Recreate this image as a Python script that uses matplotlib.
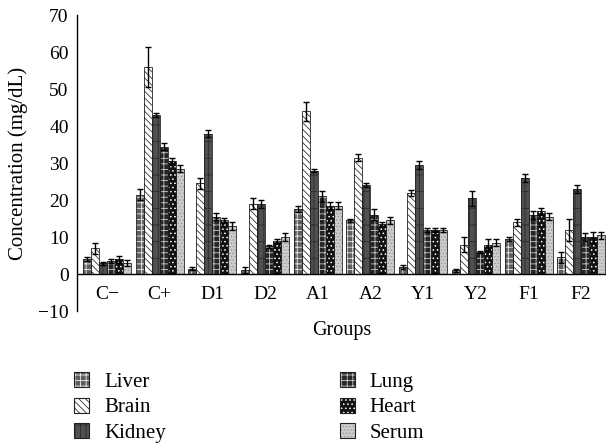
#!/usr/bin/env python
# -*- coding:utf-8 -*-
import numpy as np
import matplotlib
matplotlib.use('Agg')
import matplotlib.pyplot as plt
from matplotlib.patches import Patch

# =============================================================================
# DATA
# =============================================================================
groups = ['C\u2212', 'C+', 'D1', 'D2', 'A1', 'A2', 'Y1', 'Y2', 'F1', 'F2']
organs = ['Liver', 'Brain', 'Kidney', 'Lung', 'Heart', 'Serum']

liver = [4.0, 21.5, 1.5, 1.0, 17.5, 14.5, 2.0, 1.0, 9.5, 4.5]
brain = [7.0, 56.0, 24.5, 19.0, 44.0, 31.5, 22.0, 8.0, 14.0, 12.0]
kidney = [3.0, 43.0, 38.0, 19.0, 28.0, 24.0, 29.5, 20.5, 26.0, 23.0]
lung = [3.5, 34.5, 15.5, 7.5, 21.0, 16.0, 12.0, 6.0, 16.0, 10.0]
heart = [4.0, 30.5, 14.5, 9.0, 18.5, 13.5, 12.0, 8.0, 17.0, 10.0]
serum = [3.0, 28.5, 13.0, 10.0, 18.5, 14.5, 12.0, 8.5, 15.5, 10.5]

liver_err = [0.5, 1.5, 0.5, 0.8, 0.8, 0.5, 0.5, 0.5, 0.5, 1.5]
brain_err = [1.5, 5.5, 1.5, 1.5, 2.5, 1.0, 0.8, 2.0, 1.0, 3.0]
kidney_err = [0.4, 0.5, 1.0, 1.0, 0.5, 0.5, 1.0, 2.0, 1.0, 1.0]
lung_err = [0.5, 1.0, 1.0, 0.5, 1.5, 1.5, 0.5, 0.3, 1.0, 1.0]
heart_err = [1.0, 1.0, 0.8, 0.5, 1.0, 0.5, 0.5, 1.5, 1.0, 1.5]
serum_err = [0.8, 1.0, 1.2, 1.0, 1.0, 1.0, 0.5, 1.0, 1.0, 1.0]

values = [liver, brain, kidney, lung, heart, serum]
errors = [liver_err, brain_err, kidney_err, lung_err, heart_err, serum_err]

# face colour, hatch, hatch colour
styles = [('#5e5e5e', '+++', '#f0f0f0'),
          ('white', '\\\\\\\\\\', '#333333'),
          ('#505050', '|||-', '#2a2a2a'),
          ('#262626', '+++', '#c8c8c8'),
          ('#111111', '....', 'white'),
          ('#cccccc', '.....', '#999999')]

# =============================================================================
# PLOT
# =============================================================================
plt.rcParams['font.family'] = ['Liberation Serif', 'DejaVu Serif']
plt.rcParams['hatch.linewidth'] = 0.6
fsize = 14

f = plt.figure(figsize=(6.06, 4.47), dpi=100)
ax = f.add_axes([0.127, 0.304, 0.873, 0.662])

x = np.arange(len(groups))
w = 0.152
for i in range(len(organs)):
    fc, hatch, hc = styles[i]
    pos = x + (i - 2.5) * w
    ax.bar(pos, values[i], w, color=fc, hatch=hatch, edgecolor=hc, linewidth=0, zorder=2)
    ax.bar(pos, values[i], w, fill=False, edgecolor='#222222', linewidth=0.6, zorder=3)
    ax.errorbar(pos, values[i], yerr=errors[i], fmt='none', ecolor='black',
                elinewidth=1, capsize=2.5, capthick=1, zorder=4)

ax.axhline(0, color='black', lw=1, zorder=5)
for xi, g in zip(x, groups):
    ax.text(xi, -5.4, g, ha='center', va='center', fontsize=fsize)

ax.set_xlim(-0.57, 9.47)
ax.set_ylim(-10, 70)
ax.set_yticks(np.arange(-10, 71, 10))
ax.set_yticklabels(['\u221210'] + [str(v) for v in range(0, 71, 10)])
ax.tick_params(axis='y', length=0, labelsize=fsize, pad=6)
ax.set_xticks([])
for s in ['top', 'right', 'bottom']:
    ax.spines[s].set_visible(False)
ax.spines['left'].set_linewidth(1)
ax.set_ylabel('Concentration (mg/dL)', fontsize=15)
ax.yaxis.set_label_coords(-0.092, 0.5)
ax.set_xlabel('Groups', fontsize=14.5, labelpad=7)

handles = []
for i in range(len(organs)):
    fc, hatch, hc = styles[i]
    handles.append((Patch(facecolor=fc, hatch=hatch, edgecolor=hc, linewidth=0),
                    Patch(fill=False, edgecolor='#222222', linewidth=0.8)))
f.legend(handles=handles, labels=organs, ncol=2, loc='upper left',
         bbox_to_anchor=(0.122, 0.168), frameon=False, fontsize=15,
         handlelength=0.72, handleheight=0.72, handletextpad=0.72,
         labelspacing=0.29, columnspacing=8.35, borderaxespad=0, borderpad=0)

plt.savefig('out.png', dpi=100)
plt.close()
